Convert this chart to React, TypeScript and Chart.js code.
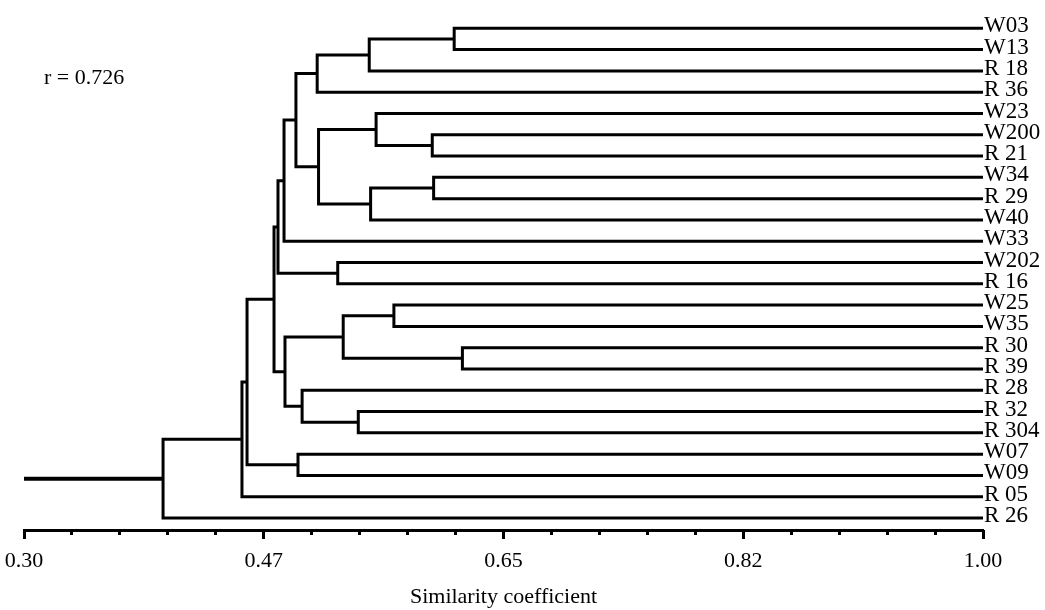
import React, { useEffect, useRef } from 'react';
import { Chart, registerables } from 'chart.js';

Chart.register(...registerables);

// Leaves of the dendrogram, top to bottom
const leafLabels = [
  'W03', 'W13', 'R 18', 'R 36', 'W23', 'W200', 'R 21', 'W34', 'R 29', 'W40', 'W33', 'W202',
  'R 16', 'W25', 'W35', 'R 30', 'R 39', 'R 28', 'R 32', 'R 304', 'W07', 'W09', 'R 05', 'R 26',
];

// Linkage: node ids 0..23 are leaves, merge k gets id 24 + k
const mergeLeft = [0, 24, 25, 5, 4, 7, 29, 28, 26, 32, 11, 33, 13, 15, 36, 18, 17, 38, 35, 20, 42, 44, 45];
const mergeRight = [1, 2, 3, 6, 27, 8, 9, 30, 31, 10, 12, 34, 14, 16, 37, 19, 39, 40, 41, 21, 43, 22, 23];
const mergeSimilarity = [
  0.614, 0.552, 0.514, 0.598, 0.557, 0.599, 0.553, 0.515, 0.4985, 0.4898, 0.529, 0.4854,
  0.570, 0.620, 0.533, 0.544, 0.503, 0.4905, 0.4825, 0.500, 0.4628, 0.4591, 0.4015,
];
const leafSimilarity = 1.0;
const rootStart = 0.30;

const xMajorTicks = [0.30, 0.475, 0.65, 0.825, 1.00];
const xTickLabels = ['0.30', '0.47', '0.65', '0.82', '1.00'];
const axisTitle = 'Similarity coefficient';
const annotationText = 'r = 0.726';

const FONT = "'Liberation Serif', 'Times New Roman', Times, serif";
const Y_MIN = -1;
const Y_MAX = 23.563;

function buildSegments() {
  const nodeY: number[] = leafLabels.map((_, i) => i);
  const nodeX: number[] = leafLabels.map(() => leafSimilarity);
  const segs: { data: { x: number; y: number }[]; width: number }[] = [];
  mergeLeft.forEach((a, k) => {
    const b = mergeRight[k];
    const s = mergeSimilarity[k];
    segs.push({
      data: [
        { x: nodeX[a], y: nodeY[a] },
        { x: s, y: nodeY[a] },
        { x: s, y: nodeY[b] },
        { x: nodeX[b], y: nodeY[b] },
      ],
      width: 3,
    });
    nodeY.push((nodeY[a] + nodeY[b]) / 2);
    nodeX.push(s);
  });
  const last = nodeY.length - 1;
  segs.push({
    data: [
      { x: rootStart, y: nodeY[last] },
      { x: nodeX[last], y: nodeY[last] },
    ],
    width: 4,
  });
  return segs;
}

export default function App() {
  const canvasRef = useRef<HTMLCanvasElement | null>(null);

  useEffect(() => {
    if (!canvasRef.current) return;
    const segs = buildSegments();
    const chart = new Chart(canvasRef.current, {
      type: 'scatter',
      data: {
        datasets: segs.map((s) => ({
          data: s.data,
          showLine: true,
          borderColor: '#000',
          backgroundColor: '#000',
          borderWidth: s.width,
          pointRadius: 0,
          pointHoverRadius: 0,
          fill: false,
          tension: 0,
          borderJoinStyle: 'miter',
          borderCapStyle: 'butt',
          xAxisID: 'x',
          yAxisID: 'yL',
        })),
      },
      options: {
        animation: false,
        responsive: true,
        maintainAspectRatio: false,
        events: [],
        layout: { padding: { top: 7, left: 24, right: 0, bottom: 0 } },
        plugins: { legend: { display: false }, tooltip: { enabled: false } },
        scales: {
          x: {
            type: 'linear',
            position: 'bottom',
            min: 0.3,
            max: 1.0,
            afterBuildTicks: (s: any) => {
              s.ticks = xMajorTicks.map((v) => ({ value: v }));
            },
            afterFit: (s: any) => {
              s.height = 80;
              s.paddingLeft = 0;
              s.paddingRight = 0;
            },
            grid: {
              display: true,
              drawOnChartArea: false,
              drawTicks: true,
              tickLength: 9,
              tickWidth: 3,
              tickColor: '#000',
            },
            border: { display: true, color: '#000', width: 3 },
            ticks: {
              color: '#000',
              font: { family: FONT, size: 22 },
              padding: 9,
              maxRotation: 0,
              autoSkip: false,
              callback: (_v: any, i: number) => xTickLabels[i],
            },
            title: {
              display: true,
              text: axisTitle,
              color: '#000',
              font: { family: FONT, size: 22 },
              padding: { top: 0, bottom: 0 },
            },
          },
          xMinor: {
            type: 'linear',
            axis: 'x',
            position: { yL: Y_MAX },
            min: 0.3,
            max: 1.0,
            ticks: { display: false, stepSize: 0.035 },
            grid: {
              display: true,
              drawOnChartArea: false,
              drawTicks: true,
              tickLength: 5,
              tickWidth: 3,
              tickColor: '#000',
            },
            border: { display: false },
          },
          yL: {
            type: 'linear',
            axis: 'y',
            position: 'right',
            reverse: true,
            min: Y_MIN,
            max: Y_MAX,
            afterBuildTicks: (s: any) => {
              s.ticks = leafLabels.map((_, i) => ({ value: i }));
            },
            afterFit: (s: any) => {
              s.width = 62;
              s.paddingTop = 0;
              s.paddingBottom = 0;
            },
            grid: { display: false, drawTicks: false },
            border: { display: false },
            ticks: {
              color: '#000',
              font: { family: FONT, size: 23 },
              padding: 1,
              labelOffset: -2,
              autoSkip: false,
              callback: (v: any) => leafLabels[v as number],
            },
          },
        },
      } as any,
    });
    return () => chart.destroy();
  }, []);

  return (
    <div style={{ position: 'fixed', left: 0, top: 0, width: 1045, height: 610, background: '#fff' }}>
      <canvas ref={canvasRef} />
      <div
        style={{
          position: 'absolute',
          left: 44,
          top: 66,
          fontFamily: FONT,
          fontSize: 22,
          lineHeight: '22px',
          color: '#000',
          whiteSpace: 'pre',
        }}
      >
        {annotationText}
      </div>
    </div>
  );
}
